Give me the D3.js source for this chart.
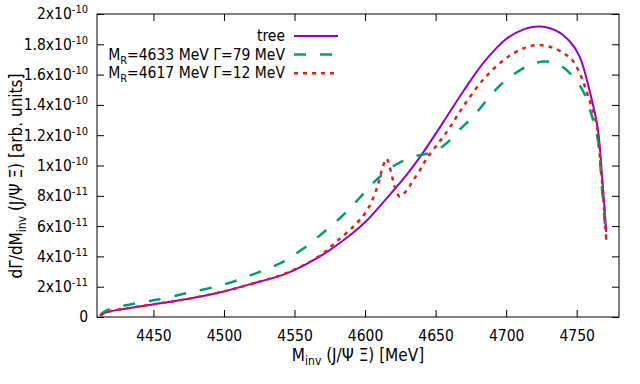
<!DOCTYPE html>
<html><head><meta charset="utf-8">
<script src="https://cdn.jsdelivr.net/npm/d3@7"></script>
<style>
body{margin:0;background:#fff}
svg{display:block}
text{font-family:'DejaVu Sans Condensed','DejaVu Sans',sans-serif;fill:#000}
</style>
</head><body>
<svg id="chart" width="640" height="384"></svg>
<script>
// ---- data (y values in units of 1e-11) ----
const treeMass = [4412.5, 4415, 4419, 4430, 4448, 4475, 4499, 4520, 4545, 4568, 4590, 4600, 4615, 4630, 4640, 4655, 4670, 4685, 4700, 4712, 4723, 4735, 4745, 4752, 4759, 4765, 4768, 4771];
const treeValE11 = [0.1, 0.25, 0.37, 0.55, 0.81, 1.2, 1.67, 2.2, 2.9, 4.0, 5.45, 6.25, 7.8, 9.45, 10.7, 12.8, 14.95, 16.9, 18.35, 18.97, 19.18, 18.92, 18.2, 17.2, 15.0, 12.4, 9.3, 5.6];

const broadMass = [4412, 4415, 4420, 4432, 4450, 4475, 4502, 4523, 4540, 4556, 4570, 4583, 4596, 4608, 4620, 4627, 4637, 4645, 4654, 4660, 4667, 4673, 4680, 4690, 4700, 4710, 4718, 4727, 4735, 4743.5, 4754, 4760, 4765, 4768, 4771];
const broadValE11 = [0.1, 0.35, 0.55, 0.8, 1.1, 1.6, 2.2, 2.9, 3.56, 4.5, 5.54, 6.6, 7.85, 9.05, 9.95, 10.3, 10.65, 10.8, 11.2, 11.66, 12.36, 12.9, 13.6, 14.75, 15.65, 16.3, 16.68, 16.87, 16.75, 16.25, 15.0, 13.5, 11.7, 8.4, 5.1];

const narrowMass = [4412.5, 4415, 4419, 4430, 4448, 4475, 4499, 4520, 4545, 4568, 4580, 4591.5, 4601, 4608, 4612.7, 4615.2, 4618.6, 4621, 4624.5, 4629, 4634, 4639, 4644, 4653, 4660, 4670, 4685, 4701, 4714, 4723, 4733, 4741, 4747, 4753, 4758, 4764, 4766, 4768, 4771];
const narrowValE11 = [0.1, 0.25, 0.37, 0.55, 0.81, 1.2, 1.67, 2.2, 2.92, 4.05, 5.0, 5.95, 6.97, 8.4, 9.94, 10.45, 9.5, 8.6, 7.96, 8.3, 9.0, 9.7, 10.5, 11.6, 12.5, 13.95, 15.8, 17.15, 17.8, 17.95, 17.78, 17.4, 16.95, 15.9, 14.6, 12.8, 11.0, 8.9, 5.1];

const xTicks = [4450, 4500, 4550, 4600, 4650, 4700, 4750];
const yTicksE11 = [0, 2, 4, 6, 8, 10, 12, 14, 16, 18, 20];
const yTickMantissa = ["0", "2", "4", "6", "8", "1", "1.2", "1.4", "1.6", "1.8", "2"];
const yTickExponent = ["", "-11", "-11", "-11", "-11", "-10", "-10", "-10", "-10", "-10", "-10"];

const seriesNames = ["tree", "MR4633", "MR4617"];
const legendMass = ["", "4633", "4617"];
const legendWidth = ["", "79", "12"];
const seriesColors = ["#9400d3", "#009e73", "#e51e10"];

// ---- layout ----
const svg = d3.select("#chart");
const L = 97, R = 619, T = 14, B = 317;
const x = d3.scaleLinear().domain([4410, 4780]).range([L, R]);
const y = d3.scaleLinear().domain([0, 20]).range([B, T]);

svg.append("clipPath").attr("id", "clip").append("rect")
  .attr("x", L).attr("y", T).attr("width", R - L).attr("height", B - T);

const fs = 15.5;
const gx = svg.append("g").attr("transform", `translate(0,${B})`)
  .call(d3.axisBottom(x).tickValues(xTicks).tickSize(-7).tickPadding(8).tickFormat(d3.format("d")));
const gxt = svg.append("g").attr("transform", `translate(0,${T})`)
  .call(d3.axisTop(x).tickValues(xTicks).tickSize(-7).tickFormat(""));
const gy = svg.append("g").attr("transform", `translate(${L},0)`)
  .call(d3.axisLeft(y).tickValues(yTicksE11).tickSize(-7).tickPadding(9).tickFormat(""));
const gyr = svg.append("g").attr("transform", `translate(${R},0)`)
  .call(d3.axisRight(y).tickValues(yTicksE11).tickSize(-7).tickFormat(""));
[gx, gxt, gy, gyr].forEach(g => {
  g.select(".domain").remove();
  g.selectAll(".tick line").attr("stroke", "#000").attr("stroke-width", 1);
});
gx.selectAll(".tick text").attr("font-size", fs).attr("font-family", null).attr("dy", "1.0em");

gy.selectAll(".tick text").each(function(d, i) {
  const t = d3.select(this).attr("font-size", fs).attr("font-family", null).text("");
  if (yTickExponent[i] === "") { t.text(yTickMantissa[i]); return; }
  t.append("tspan").text(yTickMantissa[i] + "x10");
  t.append("tspan").attr("font-size", 11).attr("dy", -6).text(yTickExponent[i]);
});

svg.append("rect").attr("x", L).attr("y", T).attr("width", R - L).attr("height", B - T)
  .attr("fill", "none").attr("stroke", "#000").attr("stroke-width", 1);

const line = d3.line().x(d => x(d[0])).y(d => y(d[1])).curve(d3.curveCatmullRom.alpha(0.5));
const series = [
  {m: treeMass, v: treeValE11, dash: null, w: 2},
  {m: broadMass, v: broadValE11, dash: "12,14", w: 2.5},
  {m: narrowMass, v: narrowValE11, dash: "4,5", w: 2.5}
];
const gl = svg.append("g").attr("clip-path", "url(#clip)");
series.forEach((s, i) => {
  gl.append("path").datum(s.m.map((mm, k) => [mm, s.v[k]]))
    .attr("d", line).attr("fill", "none")
    .attr("stroke", seriesColors[i]).attr("stroke-width", s.w)
    .attr("stroke-dasharray", s.dash);
});

const legX = 285, legY0 = 36, legDY = 18.6;
series.forEach((s, i) => {
  const yy = legY0 + i * legDY;
  const t = svg.append("text").attr("x", legX).attr("y", yy + 5).attr("text-anchor", "end").attr("font-size", fs);
  if (i === 0) t.text(seriesNames[0]);
  else {
    t.append("tspan").text("M");
    t.append("tspan").attr("font-size", 11).attr("dy", 4).text("R");
    t.append("tspan").attr("dy", -4).text(`=${legendMass[i]} MeV Γ=${legendWidth[i]} MeV`);
  }
  svg.append("line").attr("x1", 294).attr("x2", 338).attr("y1", yy).attr("y2", yy)
    .attr("stroke", seriesColors[i]).attr("stroke-width", s.w).attr("stroke-dasharray", s.dash);
});

const xl = svg.append("text").attr("x", 358).attr("y", 361).attr("text-anchor", "middle").attr("font-size", 17);
xl.append("tspan").text("M");
xl.append("tspan").attr("font-size", 12).attr("dy", 4).text("inv");
xl.append("tspan").attr("dy", -4).text(" (J/Ψ Ξ) [MeV]");

const yl = svg.append("text").attr("transform", "translate(22,176) rotate(-90)").attr("text-anchor", "middle").attr("font-size", 17);
yl.append("tspan").text("dΓ/dM");
yl.append("tspan").attr("font-size", 12).attr("dy", 4).text("inv");
yl.append("tspan").attr("dy", -4).text(" (J/Ψ Ξ) [arb. units]");
</script>
</body></html>
